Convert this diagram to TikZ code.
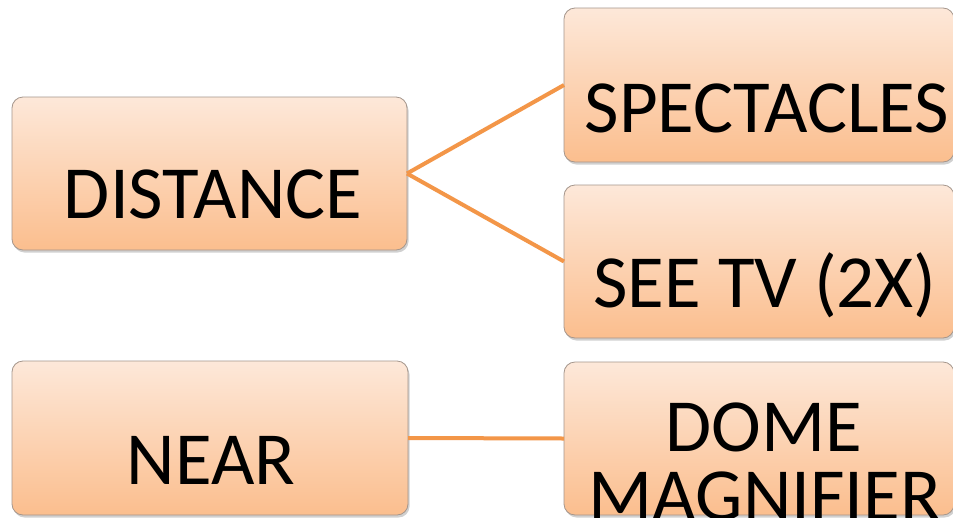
\documentclass[tikz,border=0pt]{standalone}
\usepackage{fontspec}
\setmainfont{Carlito}
\usetikzlibrary{shadows}
\definecolor{boxtop}{RGB}{253,232,217}
\definecolor{boxbot}{RGB}{251,190,142}
\definecolor{boxline}{RGB}{165,150,140}
\definecolor{conn}{RGB}{243,150,72}
\tikzset{
  box/.style={draw=boxline, line width=0.8pt, rounded corners=11pt,
    top color=boxtop, bottom color=boxbot, inner sep=0pt, outer sep=0pt,
    drop shadow={shadow xshift=1.5pt, shadow yshift=-2.5pt, opacity=0.3, fill=black!60}},
  lbl/.style={anchor=base, inner sep=0pt, font=\fontsize{75}{80}\selectfont},
  link/.style={draw=conn, line width=4pt}
}
\begin{document}
\begin{tikzpicture}[x=1pt, y=-1pt]
\clip (0,0) rectangle (953,517);
\fill[white] (0,0) rectangle (953,517);
\node[box, minimum width=395pt, minimum height=153pt] (dist) at (209.5,173.5) {};
\node[box, minimum width=390pt, minimum height=154pt] (spec) at (759,85) {};
\node[box, minimum width=390pt, minimum height=153pt] (tv) at (759,261.5) {};
\node[box, minimum width=396pt, minimum height=154pt] (near) at (210,438) {};
\node[box, minimum width=390pt, minimum height=153pt] (dome) at (759,438.5) {};
\draw[link] (dist.east) -- (spec.west);
\draw[link] (dist.east) -- (tv.west);
\draw[link] (near.east) -- (dome.west);
\node[lbl] (tdist) at (213,218) {DISTANCE};
\node[lbl] (tspec) at (767,132) {SPECTACLES};
\node[lbl] (ttv) at (765,307) {SEE TV (2X)};
\node[lbl] (tnear) at (211,484) {NEAR};
\node[lbl] (tdome) at (764,451) {DOME};
\node[lbl] (tmag) at (765,520) {MAGNIFIER};
\end{tikzpicture}
\end{document}
